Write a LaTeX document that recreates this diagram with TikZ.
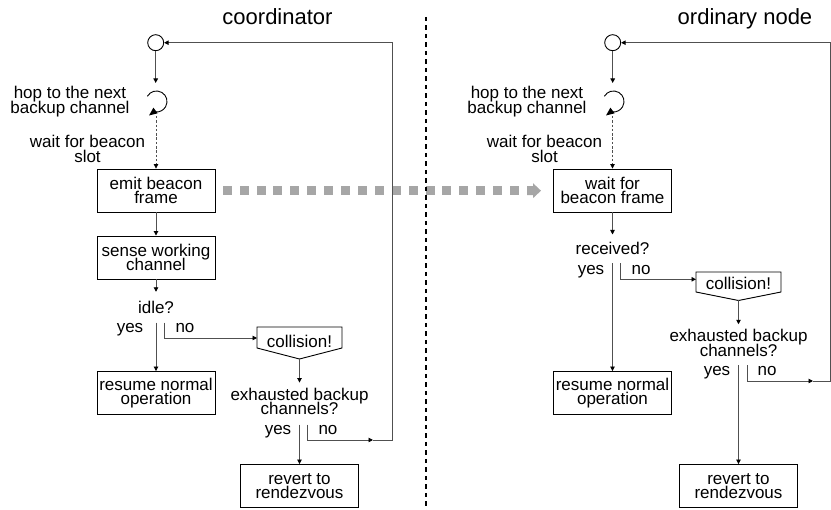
\documentclass[tikz,border=0pt]{standalone}
\usepackage{fontspec}
\setmainfont{Liberation Sans}
\usetikzlibrary{arrows.meta}
\definecolor{linegray}{HTML}{505050}
\definecolor{beamgray}{HTML}{A6A6A6}
\newcommand\bodyfont{\fontsize{17}{14.6}\selectfont\lineskiplimit=-20pt\relax}
\newcommand\titlefont{\fontsize{22}{26}\selectfont}
\tikzset{hopsym/.pic={
  \draw[black, line width=0.9pt] (150:10.5pt) arc[start angle=150, end angle=-95, radius=10.5pt];
  \fill[black] (-7.5,14) -- (-3.1,6.2) -- (1.1,11.8) -- cycle;
}}
\begin{document}
\begin{tikzpicture}[x=1pt,y=-1pt,
  lbl/.style={font=\bodyfont, align=center, inner sep=0pt},
  titlelbl/.style={font=\titlefont, inner sep=0pt, anchor=base},
  stepbox/.style={lbl, draw=black, line width=0.9pt, minimum width=118pt, minimum height=43pt},
  conn/.style={draw=linegray, line width=0.9pt, -{Triangle[length=4.5pt,width=4.5pt,color=black]}},
  dashconn/.style={conn, dash pattern=on 2.5pt off 1.8pt, line width=0.8pt},
  ans/.style={lbl, anchor=base},
  collshape/.style={draw=black, line width=0.9pt},
  startc/.style={draw=black, line width=0.9pt, circle, minimum size=16pt, inner sep=0pt},
]
\useasboundingbox (0,0) rectangle (831,510);

% titles
\node[titlelbl] (tC) at (277.5,25) {coordinator};
\node[titlelbl] (tO) at (745,25) {ordinary node};

% gray beacon beam
\foreach \i in {0,...,17} \fill[beamgray] (222.7+16.9*\i,186.2) rectangle ++(9,9);
\fill[beamgray] (527,186.2) -- (533,186.2) -- (533,183.2) -- (541,190.7) -- (533,198.2) -- (533,195.2) -- (527,195.2) -- cycle;

% divider
\coordinate (divtop) at (426,17);
\coordinate (divbot) at (426,510);
\draw[black, line width=1.1pt, dash pattern=on 4.5pt off 4pt] (divtop) -- (divbot);

% ===== coordinator =====
\node[startc] (circL) at (155.7,42.7) {};
\coordinate (rotLin) at (155.7,83);
\draw[conn] (circL) -- (rotLin);
\pic at (156.5,101.5) {hopsym};
\node[lbl] (hopL) at (70,101.7) {hop to the next\\backup channel};
\node[lbl] (waitL) at (87.5,148.8) {wait for beacon\\slot};
\coordinate (rotLout) at (156,116);
\node[stepbox] (emitL) at (156,190.5) {emit beacon\\frame};
\draw[dashconn] (rotLout) -- (emitL);
\node[stepbox] (senseL) at (156,257.5) {sense working\\channel};
\draw[conn] (emitL) -- (senseL);
\node[lbl, inner ysep=9pt, anchor=base] (idleL) at (156,313.3) {idle?};
\draw[conn] (senseL) -- (idleL);
\node[stepbox] (resumeL) at (156,393) {resume normal\\operation};
\draw[conn] (idleL) -- (resumeL);
\node[ans] (yesL1) at (130,333) {yes};
\node[ans] (noL1) at (185,333) {no};
\draw[collshape] (257,327) -- (342,327) -- (342,348) -- (299.5,359) -- (257,348) -- cycle;
\node[lbl] (collL) at (299.5,341) {collision!};
\coordinate (collLin) at (257,338);
\coordinate (collLtip) at (299.5,359);
\draw[conn] ([xshift=8.5pt]idleL.south) |- (collLin);
\node[lbl, inner ysep=5pt] (exhL) at (299.5,401.3) {exhausted backup\\channels?};
\draw[conn] (collLtip) -- (exhL);
\node[stepbox] (revertL) at (299.5,486) {revert to\\rendezvous};
\draw[conn] ([yshift=-4.5pt]exhL.south) -- (revertL);
\node[ans] (yesL2) at (278,434.4) {yes};
\node[ans] (noL2) at (328,434.4) {no};
\coordinate (midL) at (373,440);
\coordinate (cornerL) at (392.3,440);
\draw[conn] ([xshift=8pt,yshift=-4.5pt]exhL.south) |- (midL);
\draw[conn] (midL) -- (cornerL) |- (circL);

% ===== ordinary node =====
\node[startc] (circR) at (612.7,42.7) {};
\coordinate (rotRin) at (612.7,83);
\draw[conn] (circR) -- (rotRin);
\pic at (613.5,101.5) {hopsym};
\node[lbl] (hopR) at (527,101.7) {hop to the next\\backup channel};
\node[lbl] (waitR) at (544.5,148.8) {wait for beacon\\slot};
\coordinate (rotRout) at (612.5,116);
\node[stepbox] (waitBoxR) at (612.5,190.5) {wait for\\beacon frame};
\draw[dashconn] (rotRout) -- (waitBoxR);
\node[lbl, inner ysep=8pt, anchor=base] (recvR) at (612.5,255) {received?};
\draw[conn] (waitBoxR) -- (recvR);
\node[stepbox] (resumeR) at (612.5,393) {resume normal\\operation};
\draw[conn] (recvR) -- (resumeR);
\node[ans] (yesR1) at (591,274.4) {yes};
\node[ans] (noR1) at (641,274.4) {no};
\draw[collshape] (696,272) -- (781,272) -- (781,292) -- (738.5,300.5) -- (696,292) -- cycle;
\node[lbl] (collR) at (738.5,283) {collision!};
\coordinate (collRin) at (696,279.3);
\coordinate (collRtip) at (738.5,300.5);
\draw[conn] ([xshift=8pt]recvR.south) |- (collRin);
\node[lbl, inner ysep=5pt] (exhR) at (738.5,343) {exhausted backup\\channels?};
\draw[conn] (collRtip) -- (exhR);
\node[stepbox] (revertR) at (738.5,486) {revert to\\rendezvous};
\draw[conn] ([yshift=-3.5pt]exhR.south) -- (revertR);
\node[ans] (yesR2) at (717,376) {yes};
\node[ans] (noR2) at (767,376) {no};
\coordinate (midR) at (813,381);
\coordinate (cornerR) at (830,381);
\draw[conn] ([xshift=8.5pt,yshift=-3.5pt]exhR.south) |- (midR);
\draw[conn] (midR) -- (cornerR) |- (circR);
\end{tikzpicture}
\end{document}
